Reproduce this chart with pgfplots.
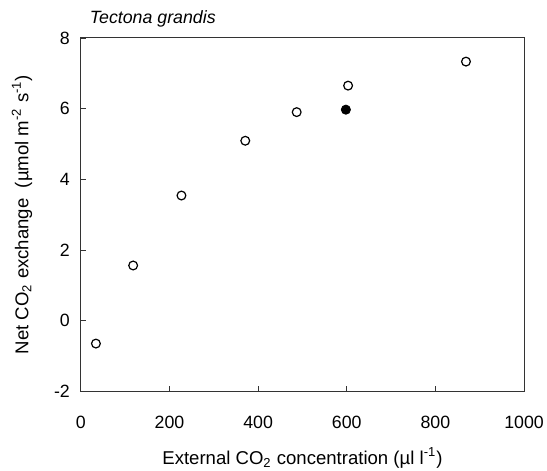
\documentclass[border=0pt]{standalone}
\usepackage{pgfplots}
\pgfplotsset{compat=1.18}
\usepackage{fontspec}
\setmainfont{Liberation Sans}

\begin{document}
\begin{tikzpicture}[font=\fontsize{8.9}{10}\selectfont]
\path[use as bounding box] (-40.5pt,-39.5pt) rectangle (233.5pt,196pt);
\begin{axis}[
  scale only axis, width=222pt, height=177pt,
  xmin=0, xmax=1000, ymin=-2, ymax=8,
  xtick={0,200,400,600,800,1000},
  ytick={-2,0,2,4,6,8},
  yticklabels={-2,0,2,4,6,8},
  xticklabels={0,200,400,600,800,1000},
  xtick pos=bottom, ytick pos=left,
  tick align=inside, major tick length=2.5pt,
  axis line style={black!80, line width=0.5pt},
  tick style={black!80, line width=0.4pt},
  xticklabel style={yshift=-9pt},
  yticklabel style={xshift=-2pt},
  xlabel={External CO\textsubscript{2} concentration (µl l\textsuperscript{-1})},
  ylabel={Net CO\textsubscript{2} exchange \ (µmol m\textsuperscript{-2} s\textsuperscript{-1})},
  label style={font=\fontsize{9.3}{11}\selectfont},
  xlabel style={at={(rel axis cs:0.5,0)}, anchor=center, yshift=-33.5pt},
  ylabel style={at={(rel axis cs:0,0.5)}, anchor=center, yshift=29.5pt},
  clip=false,
]
  \addplot[only marks, mark=*, mark size=2.2pt,
           mark options={draw=black, fill=white, line width=0.6pt}]
    coordinates {
      (34,-0.65) (118,1.56) (227,3.54) (371,5.09)
      (487,5.90) (603,6.65) (869,7.33)
    };
  \addplot[only marks, mark=*, mark size=2.3pt,
           mark options={draw=black, fill=black}]
    coordinates {(598,5.97)};
  \node[anchor=base west, font=\fontsize{8.9}{10}\selectfont\itshape]
    at (rel axis cs:0,1) [xshift=1pt, yshift=7pt] {Tectona grandis};
\end{axis}
\end{tikzpicture}
\end{document}
